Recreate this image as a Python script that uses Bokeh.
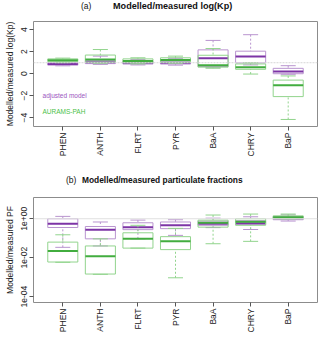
import math
import numpy as np
from bokeh.plotting import figure
from bokeh.layouts import column
from bokeh.models import Range1d, FixedTicker, Span, Label, Div
from bokeh.embed import file_html
from bokeh.resources import INLINE

compounds = ["PHEN", "ANTH", "FLRT", "PYR", "BaA", "CHRY", "BaP"]

# (a) modelled/measured log(Kp): whisker low, q1, median, q3, whisker high
kp_adj_lo = [0.72, 0.85, 0.80, 0.78, 0.55, 0.80, -0.05]
kp_adj_q1 = [0.78, 0.92, 0.88, 0.88, 0.65, 0.98, 0.00]
kp_adj_med = [0.88, 1.05, 1.00, 1.00, 1.40, 1.56, 0.21]
kp_adj_q3 = [1.00, 1.20, 1.15, 1.15, 2.17, 2.05, 0.49]
kp_adj_hi = [1.08, 1.60, 1.30, 1.40, 3.03, 3.55, 0.73]

kp_aur_lo = [1.00, 0.95, 0.90, 0.95, 0.50, -0.03, -4.16]
kp_aur_q1 = [1.10, 1.05, 1.00, 1.05, 0.60, 0.40, -2.08]
kp_aur_med = [1.22, 1.30, 1.15, 1.25, 0.77, 0.58, -1.04]
kp_aur_q3 = [1.35, 1.70, 1.35, 1.45, 1.68, 0.89, -0.58]
kp_aur_hi = [1.42, 2.20, 1.45, 1.60, 2.29, 1.00, -0.20]

# (b) modelled/measured particulate fractions
pf_adj_lo = [0.034, 0.040, 0.093, 0.14, 0.35, 0.28, 0.76]
pf_adj_q1 = [0.355, 0.093, 0.275, 0.31, 0.46, 0.51, 0.89]
pf_adj_med = [0.55, 0.275, 0.37, 0.46, 0.56, 0.59, 1.07]
pf_adj_q3 = [1.00, 0.40, 0.62, 0.68, 0.76, 0.79, 1.26]
pf_adj_hi = [1.32, 0.68, 0.85, 0.89, 1.07, 1.26, 1.58]

pf_aur_lo = [0.0058, 0.0014, 0.031, 0.00093, 0.052, 0.069, 1.00]
pf_aur_q1 = [0.0060, 0.00145, 0.031, 0.026, 0.37, 0.46, 1.00]
pf_aur_med = [0.022, 0.012, 0.093, 0.069, 0.62, 0.71, 1.20]
pf_aur_q3 = [0.063, 0.040, 0.19, 0.12, 0.85, 1.00, 1.41]
pf_aur_hi = [0.15, 0.093, 0.46, 0.32, 1.55, 1.74, 1.74]

kp_ticks = [-4, -2, 0, 2, 4]
pf_ticks = [1e-4, 1e-2, 1.0]
pf_tick_labels = ["1e-04", "1e-02", "1e+00"]

series_labels = ["adjusted model", "AURAMS-PAH"]

PUR_D, PUR_L = "#7d34a6", "#b994cf"
GRN_D, GRN_L = "#42ad3f", "#92d48d"
FONT = "Liberation Sans"
TXT = "#222222"

xs = np.arange(1, len(compounds) + 1)


def boxes(p, lo, q1, med, q3, hi, light, dark):
    p.segment(xs, hi, xs, q3, line_color=light, line_dash="2 2", line_width=1)
    p.segment(xs, lo, xs, q1, line_color=light, line_dash="2 2", line_width=1)
    p.segment(xs - 0.2, hi, xs + 0.2, hi, line_color=light, line_width=1)
    p.segment(xs - 0.2, lo, xs + 0.2, lo, line_color=light, line_width=1)
    p.quad(left=xs - 0.4, right=xs + 0.4, bottom=q1, top=q3,
           fill_color=None, line_color=light, line_width=1)
    p.segment(xs - 0.4, med, xs + 0.4, med, line_color=dark, line_width=2)


def style(p):
    p.outline_line_color = "#8c8c8c"
    p.outline_line_width = 1
    p.xgrid.visible = False
    p.ygrid.visible = False
    p.xaxis.ticker = FixedTicker(ticks=list(xs))
    p.xaxis.major_label_overrides = {int(i): c for i, c in zip(xs, compounds)}
    p.xaxis.major_label_orientation = math.pi / 2
    for ax in (p.xaxis[0], p.yaxis[0]):
        ax.axis_line_color = None
        ax.major_tick_line_color = "#555555"
        ax.major_tick_out = 4
        ax.major_tick_in = 0
        ax.minor_tick_line_color = None
        ax.major_label_text_font = FONT
        ax.major_label_text_font_size = "8.5px"
        ax.major_label_text_color = TXT
        ax.major_label_standoff = 2
        ax.axis_label_text_font = FONT
        ax.axis_label_text_font_size = "8.5px"
        ax.axis_label_text_font_style = "normal"
        ax.axis_label_text_color = TXT
        ax.axis_label_standoff = 4
    p.yaxis.major_label_orientation = "vertical"


def heading(tag, tag_left, title, title_left, size, height, top):
    span = ("position:absolute;top:%dpx;white-space:nowrap;line-height:12px;"
            "font-family:'Liberation Sans';color:#111111;" % top)
    html = ('<span style="%sleft:%dpx;font-size:8.5px;">%s</span>'
            '<span style="%sleft:%dpx;font-size:%spx;font-weight:bold;">%s</span>'
            % (span, tag_left, tag, span, title_left, size, title))
    return Div(text=html, width=320, height=height, margin=(0, 0, 0, 0),
               styles={"position": "relative"})


W = 320
# ---------- panel (a)
head_a = heading("(a)", 81, "Modelled/measured log(Kp)", 113, 9.1, 12, 0)
pa = figure(width=W, height=158, output_backend="svg", toolbar_location=None,
            x_range=Range1d(0.22, 7.78), y_range=Range1d(-4.8, 4.75),
            min_border_left=33, min_border_right=3, min_border_top=9,
            min_border_bottom=44)
style(pa)
pa.yaxis.ticker = FixedTicker(ticks=kp_ticks)
pa.yaxis.axis_label = "Modelled/measured log(Kp)"
pa.add_layout(Span(location=1, dimension="width", line_color="#d6d6d6",
                   line_dash="2 1", line_width=1))
boxes(pa, kp_adj_lo, kp_adj_q1, kp_adj_med, kp_adj_q3, kp_adj_hi, PUR_L, PUR_D)
boxes(pa, kp_aur_lo, kp_aur_q1, kp_aur_med, kp_aur_q3, kp_aur_hi, GRN_L, GRN_D)
pa.add_layout(Label(x=0.46, y=-2.0, text=series_labels[0], text_color="#9b55c0",
                    text_font=FONT, text_font_size="6.5px", text_baseline="middle"))
pa.add_layout(Label(x=0.46, y=-3.4, text=series_labels[1], text_color="#4cbf48",
                    text_font=FONT, text_font_size="6.5px", text_baseline="middle"))

# ---------- panel (b)
head_b = heading("(b)", 66, "Modelled/measured particulate fractions", 82, 8.4, 17, 4)
pb = figure(width=W, height=150, output_backend="svg", toolbar_location=None,
            y_axis_type="log",
            x_range=Range1d(0.22, 7.78), y_range=Range1d(10 ** -4.3, 10 ** 1.09),
            min_border_left=33, min_border_right=3, min_border_top=10,
            min_border_bottom=35)
style(pb)
pb.yaxis.ticker = FixedTicker(ticks=pf_ticks)
pb.yaxis.major_label_overrides = {t: l for t, l in zip(pf_ticks, pf_tick_labels)}
pb.yaxis.axis_label = "Modelled/measured PF"
pb.add_layout(Span(location=1, dimension="width", line_color="#e0e0e0", line_width=1))
boxes(pb, pf_adj_lo, pf_adj_q1, pf_adj_med, pf_adj_q3, pf_adj_hi, PUR_L, PUR_D)
boxes(pb, pf_aur_lo, pf_aur_q1, pf_aur_med, pf_aur_q3, pf_aur_hi, GRN_L, GRN_D)

layout = column(head_a, pa, head_b, pb, spacing=0)
open("out.html", "w").write(file_html(layout, INLINE))
